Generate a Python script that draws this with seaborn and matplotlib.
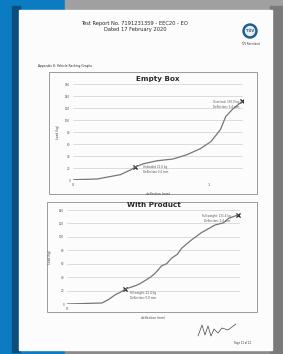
import numpy as np
import pandas as pd
import matplotlib
matplotlib.use("Agg")
import matplotlib.pyplot as plt
import seaborn as sns
from matplotlib.patches import Rectangle, Circle

# chart 1: empty box (deflection mm, load kg)
empty_defl = [0.0, 0.01, 0.18, 0.35, 0.43, 0.46, 0.52, 0.62, 0.74, 0.84, 0.94, 1.02, 1.09, 1.13, 1.18, 1.25]
empty_load = [0.0, 0.5, 1.7, 8.9, 17.2, 21.7, 27, 32, 35, 42, 52, 64, 84, 106, 118, 131]
empty_marks_x = [0.46, 1.25]
empty_marks_y = [21.7, 131]

# chart 2: with product
prod_defl = [0.0, 0.49, 0.58, 0.68, 0.75, 0.82, 0.96, 1.02, 1.10, 1.18, 1.24, 1.33, 1.40, 1.47, 1.55, 1.61, 1.75, 1.89, 2.08, 2.2, 2.27, 2.4]
prod_load = [0.0, 1.5, 6.4, 13.9, 17.5, 22.3, 27.2, 30.0, 35.1, 40.5, 46, 56.9, 60.0, 68.3, 74.0, 83.1, 95.5, 106.4, 117.7, 121.0, 127.6, 132.6]
prod_marks_x = [0.82, 2.4]
prod_marks_y = [22.3, 132.6]

empty_ticks = [0, 20, 40, 60, 80, 100, 120, 140, 160]
prod_ticks = [0, 20, 40, 60, 80, 100, 120, 140]

sns.set_theme(style="whitegrid")
plt.rcParams['font.family'] = ['DejaVu Sans']

W, H = 283, 354
fig = plt.figure(figsize=(W / 100, H / 100), dpi=100)


def box(x0, y0, x1, y1):
    return [x0 / W, 1 - y1 / H, (x1 - x0) / W, (y1 - y0) / H]


# background: photo of a page lying on a blue desk
bg = fig.add_axes([0, 0, 1, 1])
bg.set_xlim(0, W)
bg.set_ylim(H, 0)
bg.axis("off")
bg.add_patch(Rectangle((0, 0), W, H, color="#0b7cc2"))
bg.add_patch(Rectangle((65, 0), W - 65, 12, color="#a0a0a0"))
bg.add_patch(Rectangle((65, 348), W - 65, 6, color="#8a8a8a"))
bg.add_patch(Rectangle((12, 6), 8, 346, color="#0d4f7c"))
bg.add_patch(Rectangle((270, 6), 13, 348, color="#7a7a7a"))
bg.add_patch(Rectangle((19, 10), 253, 340, color="#fcfcfc"))
bg.add_patch(Rectangle((49, 72), 208, 122, fill=False, ec="#8c8c8c", lw=0.6))
bg.add_patch(Rectangle((47, 202), 210, 110, fill=False, ec="#8c8c8c", lw=0.6))

tc = "#2a2a2a"
bg.text(135, 24, "Test Report No. 7191231359 - EEC20 - EO", ha="center", va="center", fontsize=3.7, color=tc)
bg.text(135, 30, "Dated 17 February 2020", ha="center", va="center", fontsize=3.7, color=tc)
bg.add_patch(Circle((250, 31), 7, color="#1f5f8f"))
bg.add_patch(Circle((250, 31), 4.5, color="#e8eef4"))
bg.text(250, 31, "TÜV", ha="center", va="center", fontsize=2.6, color="#1f5f8f", weight="bold")
bg.text(250, 44, "TÜV Rheinland", ha="center", va="center", fontsize=1.8, color=tc)
bg.text(38, 66, "Appendix 8: Vehicle Racking Graphs", ha="left", va="center", fontsize=2.2, color=tc)
bg.text(243, 343, "Page 11 of 12", ha="center", va="center", fontsize=1.8, color=tc)
bg.plot([198, 202, 205, 208, 211, 214, 218, 222, 228, 236], [336, 325, 335, 326, 336, 329, 333, 328, 330, 324], color="#444444", lw=0.5)


def chart(rect, xs, ys, mx, my, ticks, xmax, title, xticks, xtlabels, notes, ylabel_x):
    ax = fig.add_axes(rect)
    df = pd.DataFrame({"defl": xs, "load": ys})
    sns.lineplot(data=df, x="defl", y="load", ax=ax, color="#767676", lw=0.9)
    sns.scatterplot(x=mx, y=my, ax=ax, marker="x", color="#222222", s=9, linewidth=0.9)
    ax.set_xlim(0, xmax)
    ax.set_ylim(0, ticks[-1])
    ax.set_yticks(ticks)
    ax.set_yticklabels([str(t) for t in ticks], fontsize=2.0, color="#555555")
    ax.set_xticks(xticks)
    ax.set_xticklabels(xtlabels, fontsize=2.4, color="#555555")
    ax.tick_params(length=0, pad=2)
    ax.grid(axis="x", visible=False)
    ax.grid(axis="y", color="#cfcfcf", lw=0.5)
    for s in ax.spines.values():
        s.set_visible(False)
    ax.set_facecolor("none")
    ax.set_xlabel("deflection (mm)", fontsize=2.2, color="#444444", labelpad=4)
    ax.set_ylabel("")
    ax.text(ylabel_x, 0.5, "Load (kg)", rotation=90, ha="center", va="center",
            fontsize=2.2, color="#444444", transform=ax.transAxes)
    ax.set_title(title, fontsize=5.2, weight="bold", color="#2a2a2a", pad=2.5)
    for (x, y, t, ha) in notes:
        ax.text(x, y, t, fontsize=2.0, color="#555555", ha=ha, va="center", linespacing=1.3)
    return ax


chart(box(73, 84, 243, 180), empty_defl, empty_load, empty_marks_x, empty_marks_y,
      empty_ticks, 1.257, "Empty Box", [0, 1], ["0", "1"],
      [(0.52, 17, "Unloaded 22.6 kg\nDeflection 0.4 mm", "left"),
       (1.23, 126, "Overload: 150.0 kg\nDeflection: 3.4 mm", "right")], -0.09)

chart(box(67, 210, 240, 304), prod_defl, prod_load, prod_marks_x, prod_marks_y,
      prod_ticks, 2.43, "With Product", [0], ["0"],
      [(0.88, 12, "Fill weight: 22.4 kg\nDeflection: 0.8 mm", "left"),
       (2.3, 127, "Full weight: 131.4 kg\nDeflection: 2.4 mm", "right")], -0.1)

fig.savefig("out.png", dpi=100)
